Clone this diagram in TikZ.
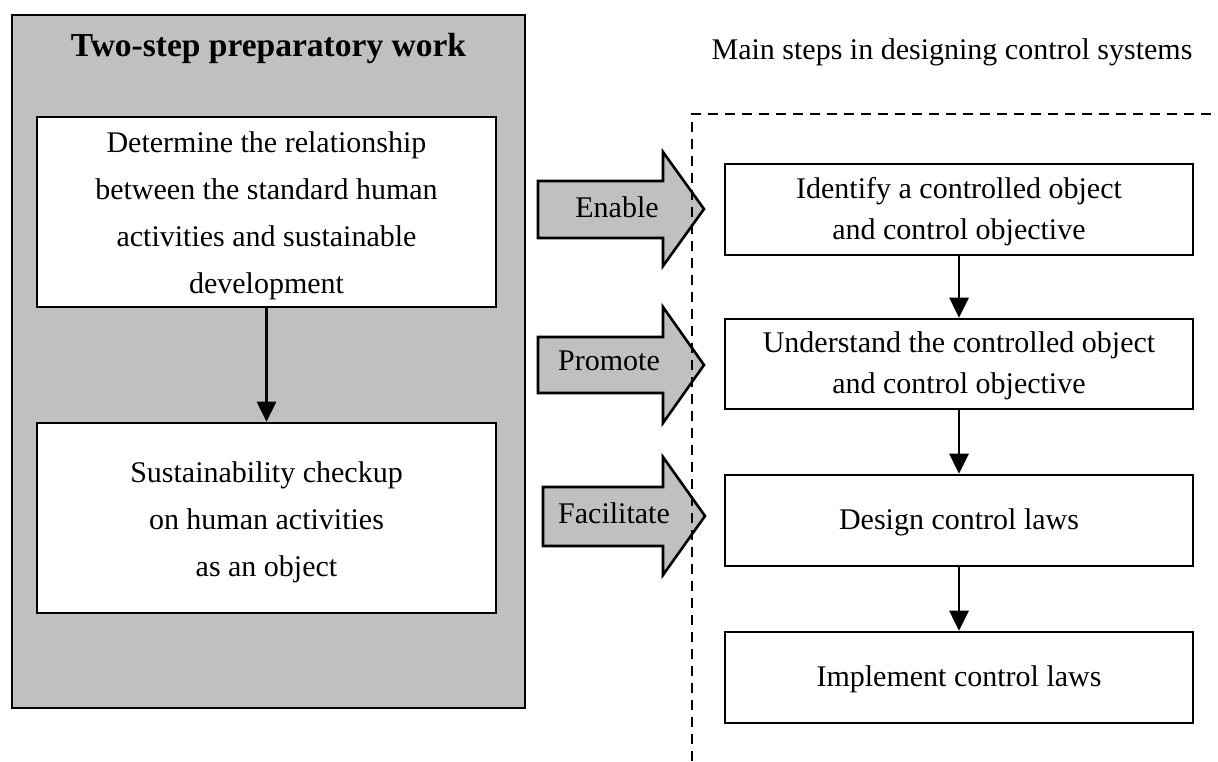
\documentclass[tikz,border=0pt]{standalone}
\usepackage{fontspec}
\setmainfont{Liberation Serif}
\usetikzlibrary{arrows.meta}
\definecolor{boxgray}{RGB}{192,192,192}
\begin{document}
\begin{tikzpicture}[x=1pt,y=-1pt,
  box/.style={draw=black, line width=2.6pt, fill=white, inner sep=0pt},
  flow/.style={-{Triangle[width=19pt,length=20pt]}, line width=2.8pt},
  blockarrow/.style={draw=black, line width=2.6pt, fill=boxgray, line join=miter},
  lbl/.style={font=\fontsize{30}{47}\selectfont, align=center},
  rlbl/.style={font=\fontsize{30}{41}\selectfont, align=center}
]
\useasboundingbox (0,0) rectangle (1218,761);
% left gray panel
\node[draw=black, line width=2.6pt, fill=boxgray, minimum width=513pt, minimum height=693pt, inner sep=0pt] (prep) at (268.5,361.5) {};
\node[font=\fontsize{33.5}{40}\selectfont\bfseries] (preptitle) at (268.5,48) {Two-step preparatory work};
\node[box, minimum width=459pt, minimum height=190pt] (L1) at (266.5,212) {};
\node[lbl] (L1t) at (266.5,216) {Determine the relationship\\between the standard human\\activities and sustainable\\development};
\node[box, minimum width=459pt, minimum height=190pt] (L2) at (266.5,518) {};
\node[lbl] (L2t) at (266.5,522) {Sustainability checkup\\on human activities\\as an object};
\draw[flow] (L1.south) -- (L2.north);
% right title
\node[font=\fontsize{30}{36}\selectfont] (mtitle) at (952,52) {Main steps in designing control systems};
% block arrows
\draw[blockarrow] (538,181) -- (663,181) -- (663,152) -- (704,209) -- (663,266) -- (663,238) -- (538,238) -- cycle;
\node[rlbl] (enable) at (617,207) {Enable};
\draw[blockarrow] (538,337) -- (663,337) -- (663,307) -- (704,365) -- (663,423) -- (663,393) -- (538,393) -- cycle;
\node[rlbl] (promote) at (609,361) {Promote};
\draw[blockarrow] (543,487) -- (663,487) -- (663,457) -- (705,516) -- (663,575) -- (663,546) -- (543,546) -- cycle;
\node[rlbl] (facilitate) at (614,513) {Facilitate};
% dashed frame
\coordinate (dbot) at (692,761);
\coordinate (dtop) at (692,114);
\coordinate (dright) at (1218,114);
\draw[line width=2.6pt, dash pattern=on 10pt off 7pt] (dbot) -- (dtop) -- (dright);
% right boxes
\node[box, minimum width=468pt, minimum height=91pt] (R1) at (959,209.5) {};
\node[rlbl] (R1t) at (959,212) {Identify a controlled object\\and control objective};
\node[box, minimum width=468pt, minimum height=90pt] (R2) at (959,364) {};
\node[rlbl] (R2t) at (959,366) {Understand the controlled object\\and control objective};
\node[box, minimum width=468pt, minimum height=91pt] (R3) at (959,520.5) {};
\node[rlbl] (R3t) at (959,522) {Design control laws};
\node[box, minimum width=468pt, minimum height=91pt] (R4) at (959,677.5) {};
\node[rlbl] (R4t) at (959,679) {Implement control laws};
\draw[flow] (R1.south) -- (R2.north);
\draw[flow] (R2.south) -- (R3.north);
\draw[flow] (R3.south) -- (R4.north);
\end{tikzpicture}
\end{document}
